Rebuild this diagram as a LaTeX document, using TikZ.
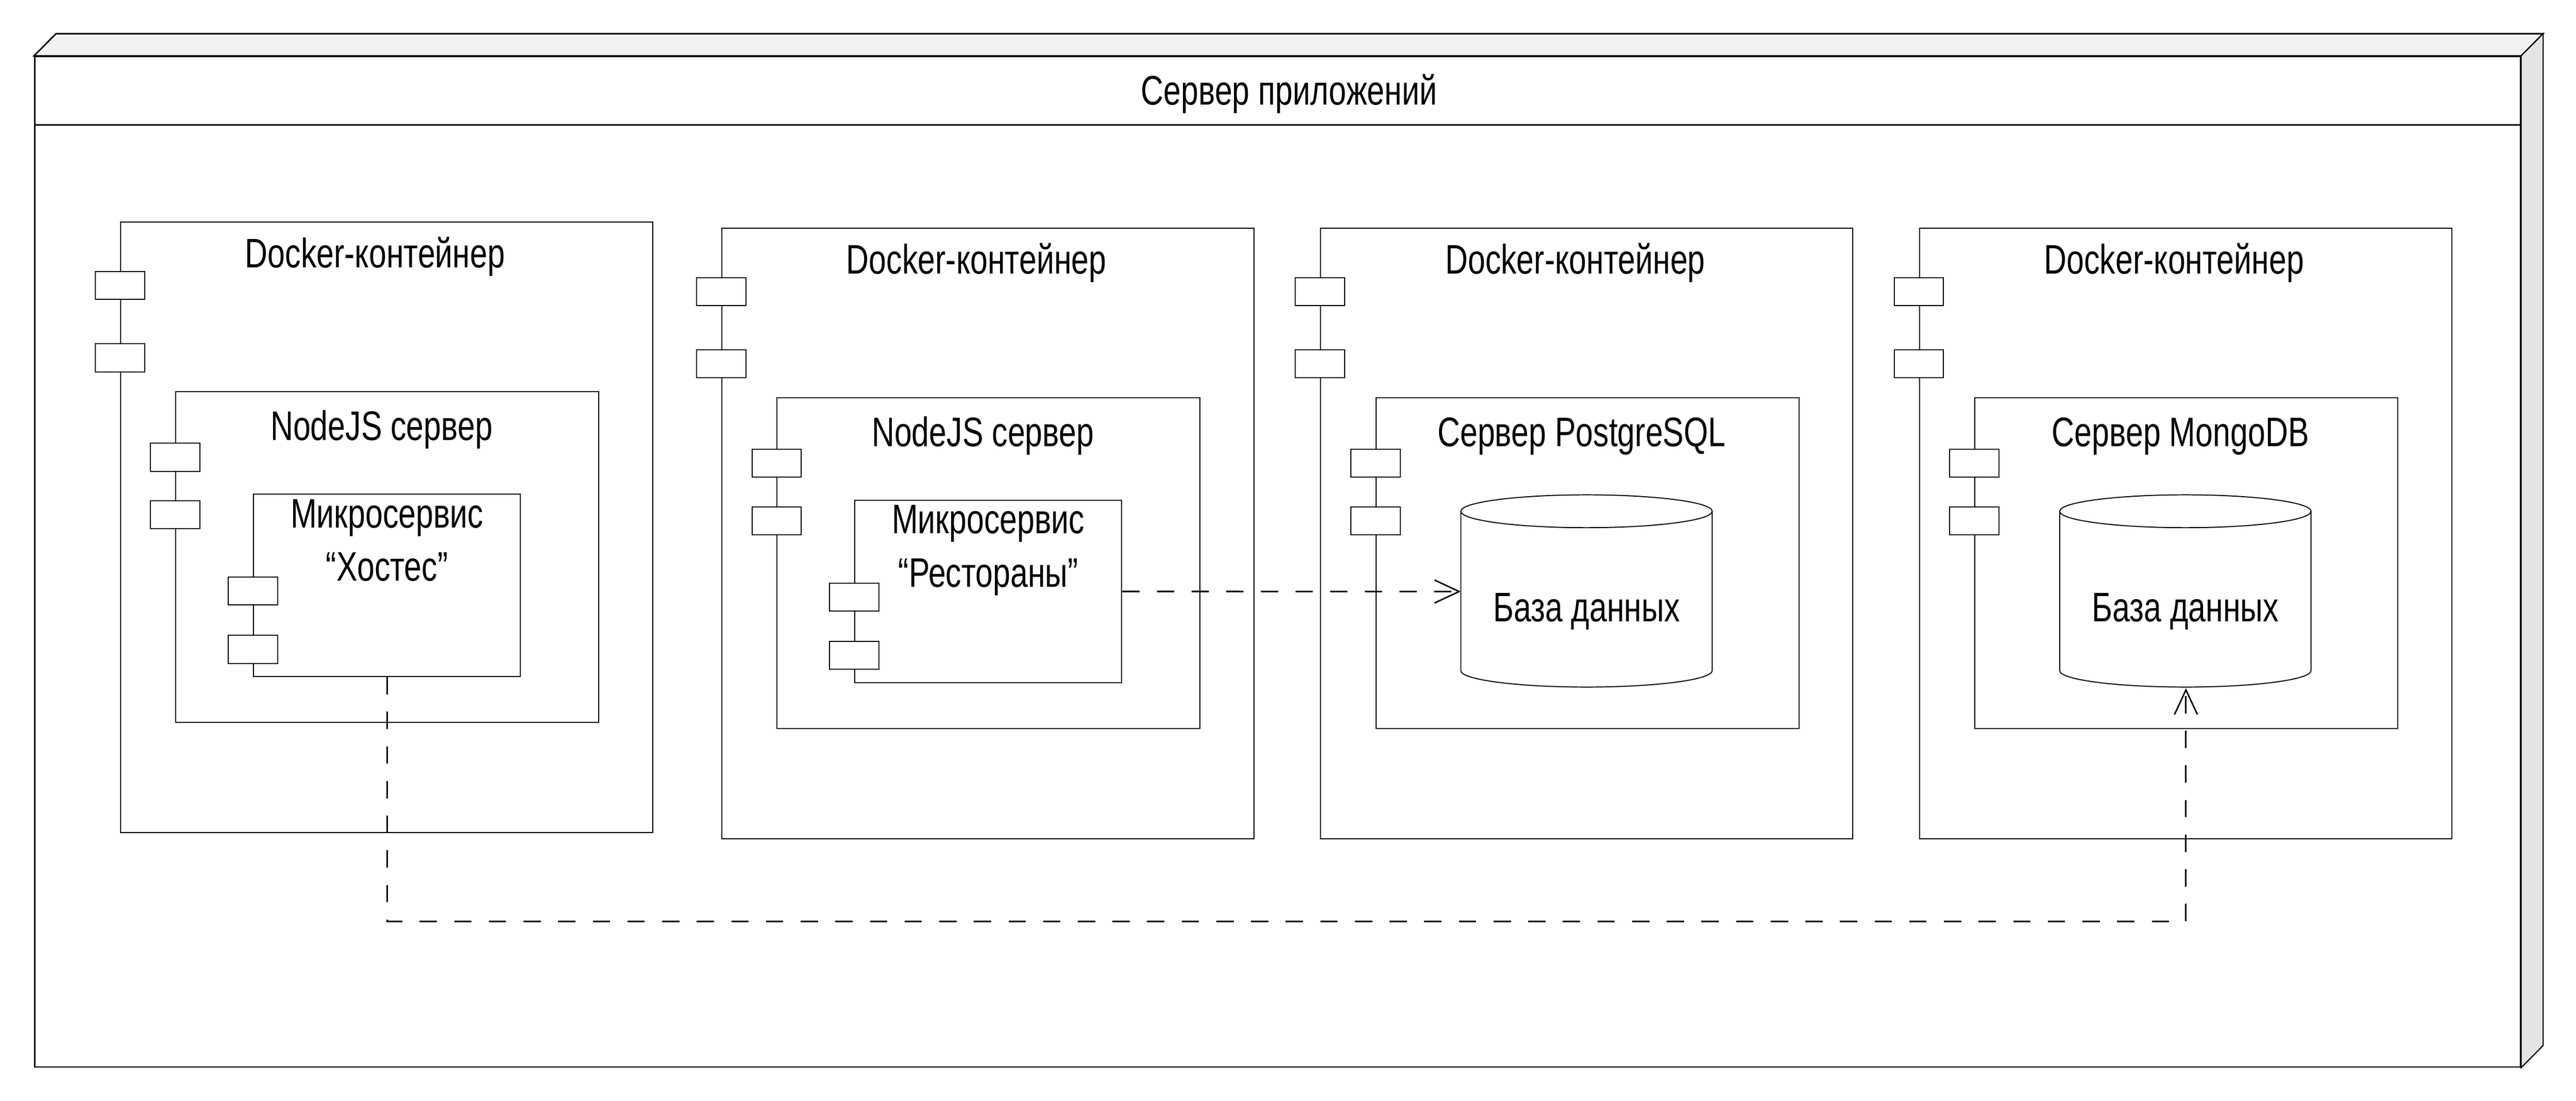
\documentclass[tikz,border=0pt]{standalone}
\usepackage{fontspec}
\setmainfont{Liberation Sans}[FakeStretch=0.76]
\usetikzlibrary{positioning,calc,arrows.meta}
\definecolor{topgray}{HTML}{F1F1F1}
\definecolor{sidegray}{HTML}{E4E4E4}
\tikzset{
    comp/.style={draw, line width=0.35pt, inner sep=0pt, anchor=north west},
    port/.style={draw, fill=white, line width=0.35pt, inner sep=0pt, minimum width=0.6cm, minimum height=0.34cm},
    dep/.style={line width=0.55pt, dash pattern=on 6pt off 6pt, -{Straight Barb[length=0.3cm, width=0.28cm, line width=0.5pt]}}
}
\tikzset{
    dbase/.pic={
		\node[inner sep=0pt, minimum width=3.06cm, minimum height=2.34cm, anchor=north west] (-box) at (0,0) {};
		\draw[line width=0.35pt] (0,-0.2) -- (0,-2.14) arc (180:360:1.53 and 0.2) -- (3.06,-0.2);
		\draw[line width=0.35pt] (1.53,-0.2) ellipse (1.53 and 0.2);
		\node[anchor=base] (-label) at (1.53,-1.54) {База данных};
	}
}

\begin{document}
\begin{tikzpicture}[every node/.style={font=\fontsize{14.3pt}{18.5pt}\selectfont}]
			\useasboundingbox (0,0) rectangle (31.36,-13.4);
			% application server
			\node[draw, line width=0.5pt, inner sep=0pt, minimum width=30.26cm, minimum height=12.3cm, anchor=north west] (app) at (0.414,-0.68) {};
			\filldraw[fill=topgray, line width=0.5pt] (app.north west) -- ++(0.268,0.27) -- ($(app.north east)+(0.268,0.27)$) -- (app.north east) -- cycle;
			\filldraw[fill=sidegray, line width=0.4pt] (app.north east) -- ++(0.268,0.27) -- ($(app.south east)+(0.268,0.27)$) -- (app.south east) -- cycle;
			\draw[line width=0.5pt] ($(app.north west)+(0,-0.84)$) -- ($(app.north east)+(0,-0.84)$);
			\node[anchor=base] (apptitle) at ($(app.north)+(0.14,-0.594)$) {Сервер приложений};
			% docker containers
			\foreach \i/\x/\y/\s in {1/1.46/-2.70/NodeJS сервер, 2/8.78/-2.774/NodeJS сервер, 3/16.07/-2.774/Сервер PostgreSQL, 4/23.36/-2.774/Сервер MongoDB}{
				\node[comp, minimum width=6.48cm, minimum height=7.43cm] (dock\i) at (\x,\y) {};
				\node[port, below=0.6cm of dock\i.north west] (dp\i-1) {};
				\node[port, below=1.48cm of dock\i.north west] (dp\i-2) {};
				\node[anchor=base] (docklabel\i) at ($(dock\i.north)+(-0.14,-0.56)$) {Docker-контейнер};
				\node[comp, minimum width=5.15cm, minimum height=4.03cm, below right=2.06cm and 0.674cm of dock\i.north west] (srv\i) {};
				\node[port, below=0.63cm of srv\i.north west] (sp\i-1) {};
				\node[port, below=1.33cm of srv\i.north west] (sp\i-2) {};
				\node[anchor=base] (srvlabel\i) at ($(srv\i.north)+(-0.07,-0.6)$) {\s};
			}
			% microservices
			\foreach \i/\s in {1/Хостес, 2/Рестораны}{
				\node[comp, minimum width=3.25cm, minimum height=2.22cm, below right=1.25cm and 0.946cm of srv\i.north west] (micro\i) {};
				\node[port, below=1.01cm of micro\i.north west] (mp\i-1) {};
				\node[port, below=1.72cm of micro\i.north west] (mp\i-2) {};
				\node[align=center, anchor=north, inner sep=0pt] (microlabel\i) at ($(micro\i.north)+(0,-0.06)$) {Микросервис\\“\s”};
			}
			% databases
			\pic (db3) at ($(srv3.north west)+(1.04,-1.19)$) {dbase};
			\pic (db4) at ($(srv4.north west)+(1.04,-1.19)$) {dbase};
			\coordinate (route) at (0,-11.22);
			\draw[dep] (micro2.east) -- (db3-box.west);
			\draw[dep] (micro1.south) -- (micro1.south |- route) -| (db4-box.south);
\end{tikzpicture}
\end{document}
